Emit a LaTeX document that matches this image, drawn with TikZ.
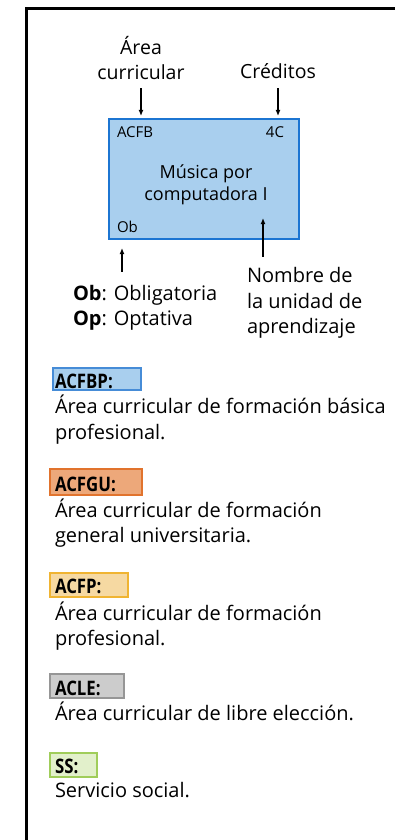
\documentclass[tikz,border=0pt]{standalone}
\usepackage{fontspec}
\setmainfont{Open Sans}
\usetikzlibrary{arrows.meta}
\definecolor{boxfill}{RGB}{169,207,238}
\definecolor{boxline}{RGB}{28,117,210}
\definecolor{bpline}{RGB}{70,140,215}
\definecolor{gufill}{RGB}{237,168,122}
\definecolor{guline}{RGB}{225,115,45}
\definecolor{fpfill}{RGB}{246,217,162}
\definecolor{fpline}{RGB}{240,180,50}
\definecolor{lefill}{RGB}{204,204,204}
\definecolor{leline}{RGB}{150,150,150}
\definecolor{ssfill}{RGB}{226,240,203}
\definecolor{ssline}{RGB}{160,205,90}
\newcommand\mytagtext[1]{\scalebox{0.84}[1]{#1}}
\begin{document}
\begin{tikzpicture}[x=1pt,y=-1pt,
  lbl/.style={inner sep=0pt, outer sep=0pt, font=\fontsize{19.5}{24}\selectfont},
  mid/.style={inner sep=0pt, outer sep=0pt, font=\fontsize{18}{22}\selectfont},
  small/.style={inner sep=0pt, outer sep=0pt, font=\fontsize{15}{18}\selectfont},
  desc/.style={inner sep=0pt, outer sep=0pt, anchor=base west, font=\fontsize{20}{24}\selectfont},
  tagtxt/.style={inner sep=0pt, outer sep=0pt, anchor=base west, font=\fontsize{20}{24}\selectfont\bfseries},
  tagbox/.style={rectangle, inner sep=0pt, outer sep=0pt, anchor=north west, line width=1.3pt},
  arr/.style={-{Latex[length=6pt,width=5pt]}, line width=1.3pt}]
\useasboundingbox (0,0) rectangle (395,840);
\fill[white] (0,0) rectangle (395,840);
\draw[line width=3pt] (26,840) -- (26,8.5) -- (395,8.5);

% top labels
\node[lbl, anchor=base] (area1) at (141,55) {Área};
\node[lbl, anchor=base] (area2) at (141,80) {curricular};
\node[lbl, anchor=base] (cred) at (278,79) {Créditos};

% main box
\node[draw=boxline, fill=boxfill, line width=2pt, rectangle, inner sep=0pt, outer sep=0pt,
      minimum width=190pt, minimum height=120pt, anchor=north west] (box) at (109,119) {};
\node[small, anchor=base west] (acfb) at (117,137) {ACFB};
\node[small, anchor=base east] (cr) at (284,137) {4C};
\node[mid, anchor=base] (mus1) at (206,178) {Música por};
\node[mid, anchor=base] (mus2) at (206,200) {computadora I};
\node[small, anchor=base west] (ob) at (117,232) {Ob};

% arrows from top labels
\draw[arr, shorten <=8pt, shorten >=3pt] (area2.south) -- (area2.south |- box.north);
\draw[arr, shorten <=9pt, shorten >=3pt] (cred.south) -- (cred.south |- box.north);

% lower labels
\node[lbl, anchor=base west, font=\fontsize{20}{24}\selectfont] (nom1) at (247,282) {Nombre de};
\node[lbl, anchor=base west, font=\fontsize{20}{24}\selectfont] (nom2) at (247,308) {la unidad de};
\node[lbl, anchor=base west, font=\fontsize{20}{24}\selectfont] (nom3) at (247,333) {aprendizaje};
\node[lbl, anchor=base west, font=\fontsize{20}{24}\selectfont] (obl) at (73,300) {\textbf{Ob}: Obligatoria};
\node[lbl, anchor=base west, font=\fontsize{20}{24}\selectfont] (opt) at (73,325) {\textbf{Op}: Optativa};

\draw[arr] ([xshift=16pt,yshift=10pt]nom1.north west) -- ([xshift=16pt,yshift=21pt]nom1.west |- box.south);
\draw[arr] ([xshift=5pt,yshift=13pt]ob.west |- obl.north) -- ([xshift=5pt,yshift=-9pt]ob.west |- box.south);

% legend
\node[tagbox, draw=bpline, fill=boxfill, minimum width=88pt, minimum height=22pt] (bbp) at (53,368) {};
\node[tagtxt] (tbp) at (55,388) {\mytagtext{ACFBP:}};
\node[desc] (dbp1) at (55,413) {Área curricular de formación básica};
\node[desc] (dbp2) at (55,439) {profesional.};

\node[tagbox, draw=guline, fill=gufill, minimum width=92pt, minimum height=26pt] (bgu) at (50,469) {};
\node[tagtxt] (tgu) at (55,491) {\mytagtext{ACFGU:}};
\node[desc] (dgu1) at (55,517) {Área curricular de formación};
\node[desc] (dgu2) at (55,542) {general universitaria.};

\node[tagbox, draw=fpline, fill=fpfill, minimum width=78pt, minimum height=24pt] (bfp) at (50,573) {};
\node[tagtxt] (tfp) at (55,593) {\mytagtext{ACFP:}};
\node[desc] (dfp1) at (55,620) {Área curricular de formación};
\node[desc] (dfp2) at (55,645) {profesional.};

\node[tagbox, draw=leline, fill=lefill, minimum width=74pt, minimum height=24pt] (ble) at (50,674) {};
\node[tagtxt] (tle) at (55,695) {\mytagtext{ACLE:}};
\node[desc] (dle1) at (55,720) {Área curricular de libre elección.};

\node[tagbox, draw=ssline, fill=ssfill, minimum width=47pt, minimum height=24pt] (bss) at (50,753) {};
\node[tagtxt] (tss) at (55,773) {\mytagtext{SS:}};
\node[desc] (dss1) at (55,797) {Servicio social.};
\end{tikzpicture}
\end{document}
